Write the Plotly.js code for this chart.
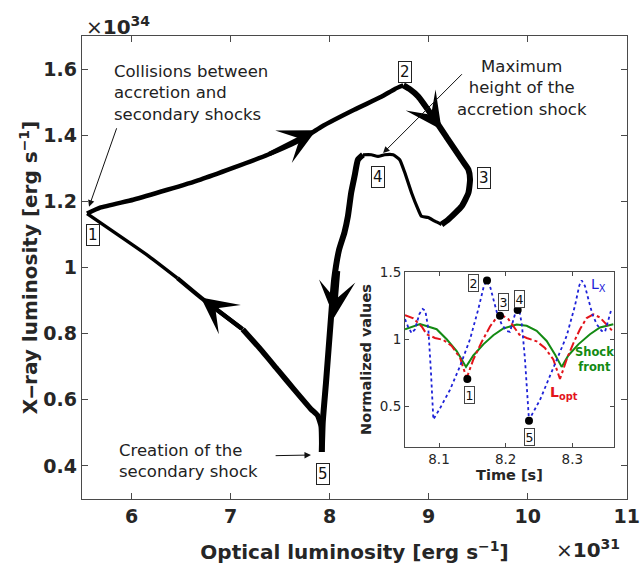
<!DOCTYPE html>
<html><head><meta charset="utf-8">
<script src="https://cdn.plot.ly/plotly-3.0.1.min.js"></script>
<style>body{margin:0;background:#fff}#chart{width:640px;height:570px}</style>
</head><body><div id="chart"></div>
<script>
// ---- Main loop (optical luminosity 1e31, X-ray luminosity 1e34) ----
const segA_x = [5.551, 5.683, 6.017, 6.362, 6.697, 7.031, 7.376, 7.711, 7.914, 8.248, 8.522, 8.660, 8.745];
const segA_y = [1.163, 1.181, 1.205, 1.235, 1.266, 1.302, 1.341, 1.386, 1.425, 1.477, 1.516, 1.540, 1.551];
const segB_x = [8.745, 8.806, 8.895, 9.063, 9.199, 9.334, 9.402, 9.418, 9.402, 9.334, 9.199, 9.131];
const segB_y = [1.551, 1.540, 1.517, 1.447, 1.386, 1.326, 1.296, 1.266, 1.226, 1.185, 1.145, 1.130];
const segC_x = [9.131, 9.063, 8.996, 8.928, 8.895, 8.827, 8.759, 8.708, 8.641, 8.556, 8.489, 8.421, 8.337];
const segC_y = [1.130, 1.140, 1.151, 1.155, 1.175, 1.226, 1.287, 1.326, 1.341, 1.341, 1.336, 1.341, 1.341];
const segD_x = [8.337, 8.286, 8.252, 8.218, 8.185, 8.150, 8.096, 8.046, 8.015, 7.964, 7.931, 7.921];
const segD_y = [1.341, 1.326, 1.276, 1.226, 1.155, 1.106, 1.054, 0.964, 0.852, 0.653, 0.533, 0.442];
const segE_x = [7.921, 7.915, 7.880, 7.812, 7.640, 7.478, 7.305, 7.123];
const segE_y = [0.442, 0.520, 0.552, 0.572, 0.632, 0.690, 0.752, 0.813];
const segE2_x = [7.123, 6.717, 6.463];
const segE2_y = [0.813, 0.905, 0.968];
const segF_x = [6.463, 6.176, 5.551];
const segF_y = [0.968, 1.034, 1.163];

const mainXTicks = [6, 7, 8, 9, 10, 11];
const mainXLabels = ['6', '7', '8', '9', '10', '11'];
const mainYTicks = [0.4, 0.6, 0.8, 1.0, 1.2, 1.4, 1.6];
const mainYLabels = ['0.4', '0.6', '0.8', '1', '1.2', '1.4', '1.6'];

// phase labels on the main loop
const phaseNames = ['1', '2', '3', '4', '5'];
const phaseLabelX = [5.615, 8.766, 9.560, 8.489, 7.931];
const phaseLabelY = [1.097, 1.592, 1.271, 1.274, 0.376];

// direction arrows on the loop: tip x, tip y, tail x, tail y
const arrowTipX = [7.863, 9.131, 8.046, 6.700];
const arrowTipY = [1.415, 1.4165, 0.849, 0.909];
const arrowTailX = [7.376, 8.895, 8.086, 7.123];
const arrowTailY = [1.341, 1.517, 0.994, 0.813];

// ---- Inset (time series) ----
const shockT = [8.049, 8.0715, 8.0965, 8.1115, 8.1265, 8.1405, 8.1515, 8.1665, 8.1815, 8.1965, 8.2165, 8.2315, 8.2465, 8.2615, 8.274, 8.284, 8.294, 8.309, 8.3265, 8.3415, 8.3615];
const shockV = [1.075, 1.1125, 1.075, 1.0, 0.9125, 0.795, 0.88, 0.9625, 1.03, 1.08, 1.11, 1.10, 1.0625, 0.9875, 0.8875, 0.795, 0.88, 0.9625, 1.0375, 1.0875, 1.1125];
const optT = [8.049, 8.0615, 8.074, 8.0815, 8.094, 8.1065, 8.119, 8.1315, 8.1415, 8.1515, 8.164, 8.1765, 8.1865, 8.194, 8.204, 8.2125, 8.2205, 8.2315, 8.2465, 8.259, 8.2715, 8.2815, 8.2915, 8.3015, 8.3115, 8.3215, 8.3315, 8.3415, 8.3515, 8.3615];
const optV = [1.18, 1.155, 1.095, 1.0375, 1.01, 0.995, 0.95, 0.8625, 0.7125, 0.85, 0.98, 1.095, 1.1625, 1.18, 1.15, 1.0875, 1.035, 1.01, 0.985, 0.935, 0.85, 0.705, 0.85, 0.97, 1.075, 1.1575, 1.185, 1.1625, 1.1125, 1.055];
const xrayT = [8.049, 8.054, 8.059, 8.064, 8.0705, 8.0755, 8.0795, 8.084, 8.088, 8.0915, 8.1015, 8.1165, 8.1315, 8.1465, 8.159, 8.1675, 8.1715, 8.1765, 8.1815, 8.1875, 8.194, 8.2015, 8.2065, 8.2115, 8.2155, 8.2205, 8.2245, 8.229, 8.235, 8.2515, 8.2715, 8.2915, 8.304, 8.3105, 8.314, 8.319, 8.324, 8.33, 8.3365, 8.344, 8.349, 8.354, 8.358, 8.3615];
const xrayV = [1.15, 1.0875, 1.045, 1.075, 1.1875, 1.225, 1.2125, 1.075, 0.75, 0.405, 0.4875, 0.625, 0.80, 1.0, 1.225, 1.40, 1.4375, 1.395, 1.30, 1.1875, 1.1125, 1.0625, 1.055, 1.1375, 1.2125, 1.2175, 1.10, 0.85, 0.40, 0.55, 0.7875, 1.025, 1.25, 1.40, 1.4375, 1.395, 1.30, 1.1875, 1.1125, 1.0625, 1.055, 1.1375, 1.2125, 1.2175];
const phaseDotT = [8.1425, 8.172, 8.1915, 8.218, 8.235];
const phaseDotV = [0.705, 1.4375, 1.175, 1.2175, 0.395];
const insetLabelT = [8.145, 8.1515, 8.1965, 8.2205, 8.2365];
const insetLabelV = [0.5875, 1.4175, 1.275, 1.30, 0.275];
const insetXTicks = [8.1, 8.2, 8.3];
const insetXLabels = ['8.1', '8.2', '8.3'];
const insetYTicks = [0.5, 1, 1.5];
const insetYLabels = ['0.5', '1', '1.5'];

const FONT = 'DejaVu Sans';
const AX = '#4a4a4a';

function seg(x, y, w) {
  return {x: x, y: y, type: 'scatter', mode: 'lines', xaxis: 'x', yaxis: 'y',
    line: {color: '#000', width: w, shape: 'spline', smoothing: 0.45}, hoverinfo: 'skip'};
}
const traces = [
  seg(segA_x, segA_y, 4.5),
  seg(segB_x, segB_y, 6),
  seg(segC_x, segC_y, 3.2),
  seg(segD_x, segD_y, 6),
  seg(segE_x, segE_y, 5.5),
  seg(segE2_x, segE2_y, 4.3),
  seg(segF_x, segF_y, 3.4),
  {x: shockT, y: shockV, type: 'scatter', mode: 'lines', xaxis: 'x2', yaxis: 'y2', line: {color: '#138a13', width: 2}},
  {x: optT, y: optV, type: 'scatter', mode: 'lines', xaxis: 'x2', yaxis: 'y2', line: {color: '#e3141b', width: 2, dash: 'dashdot'}},
  {x: xrayT, y: xrayV, type: 'scatter', mode: 'lines', xaxis: 'x2', yaxis: 'y2', line: {color: '#1e22d8', width: 1.8, dash: 'dot'}},
  {x: phaseDotT, y: phaseDotV, type: 'scatter', mode: 'markers', xaxis: 'x2', yaxis: 'y2', marker: {color: '#000', size: 8}}
];

const ann = [];
// boxed phase labels, main
phaseNames.forEach((n, i) => ann.push({x: phaseLabelX[i], y: phaseLabelY[i], xref: 'x', yref: 'y', text: n, showarrow: false,
  font: {family: FONT, size: 15, color: '#111'}, bordercolor: '#222', borderwidth: 1, borderpad: 1, bgcolor: '#fff'}));
// boxed phase labels, inset
phaseNames.forEach((n, i) => ann.push({x: insetLabelT[i], y: insetLabelV[i], xref: 'x2', yref: 'y2', text: n, showarrow: false,
  font: {family: FONT, size: 12.5, color: '#111'}, bordercolor: '#444', borderwidth: 1, borderpad: 0.5, bgcolor: '#fff'}));
// direction arrows on the loop
arrowTipX.forEach((tx, i) => ann.push({x: tx, y: arrowTipY[i], ax: arrowTailX[i], ay: arrowTailY[i], xref: 'x', yref: 'y', axref: 'x', ayref: 'y', text: '',
  showarrow: true, arrowhead: 3, arrowsize: 1.35, arrowwidth: 4.5, arrowcolor: '#000', standoff: 0}));
// text annotations
const txt = {family: FONT, size: 16.5, color: '#222'};
ann.push({x: 5.804, y: 1.528, xref: 'x', yref: 'y', xanchor: 'left', align: 'left', showarrow: false, font: txt,
  text: 'Collisions between<br>accretion and<br>secondary shocks'});
ann.push({x: 5.571, y: 1.184, ax: 5.855, ay: 1.4255, xref: 'x', yref: 'y', axref: 'x', ayref: 'y', text: '', showarrow: true,
  arrowhead: 2, arrowsize: 1.3, arrowwidth: 1, arrowcolor: '#111'});
ann.push({x: 9.942, y: 1.543, xref: 'x', yref: 'y', xanchor: 'center', align: 'center', showarrow: false, font: txt,
  text: 'Maximum<br>height of the<br>accretion shock'});
ann.push({x: 8.540, y: 1.346, ax: 9.351, ay: 1.589, xref: 'x', yref: 'y', axref: 'x', ayref: 'y', text: '', showarrow: true,
  arrowhead: 2, arrowsize: 1.3, arrowwidth: 1, arrowcolor: '#111'});
ann.push({x: 5.855, y: 0.4158, xref: 'x', yref: 'y', xanchor: 'left', align: 'left', showarrow: false, font: txt,
  text: 'Creation of the<br>secondary shock'});
ann.push({x: 7.812, y: 0.433, ax: 7.44, ay: 0.431, xref: 'x', yref: 'y', axref: 'x', ayref: 'y', text: '', showarrow: true,
  arrowhead: 2, arrowsize: 1.3, arrowwidth: 1, arrowcolor: '#111'});
// inset legend-like labels
ann.push({x: 8.339, y: 1.40, xref: 'x2', yref: 'y2', text: 'L<sub>X</sub>', showarrow: false, font: {family: FONT, size: 14, color: '#1e22d8'}});
ann.push({x: 8.333, y: 0.85, xref: 'x2', yref: 'y2', text: '<b>Shock<br>front</b>', showarrow: false, font: {family: FONT, size: 11.5, color: '#138a13'}});
ann.push({x: 8.287, y: 0.60, xref: 'x2', yref: 'y2', text: '<b>L<sub>opt</sub></b>', showarrow: false, font: {family: FONT, size: 14, color: '#e3141b'}});
// exponent labels
ann.push({x: 0.004, y: 1.022, xref: 'paper', yref: 'paper', xanchor: 'left', yanchor: 'middle', showarrow: false,
  text: '×<b>10<sup>34</sup></b>', font: {family: FONT, size: 20, color: '#262626'}});
ann.push({x: 0.866, y: -0.108, xref: 'paper', yref: 'paper', xanchor: 'left', yanchor: 'middle', showarrow: false,
  text: '×<b>10<sup>31</sup></b>', font: {family: FONT, size: 20, color: '#262626'}});

const layout = {
  width: 640, height: 570,
  margin: {l: 82, r: 13, t: 36, b: 71},
  paper_bgcolor: '#fff', plot_bgcolor: '#fff', showlegend: false,
  font: {family: FONT, color: '#262626'},
  xaxis: {range: [5.5, 11.003], domain: [0, 1], tickvals: mainXTicks, ticktext: mainXLabels, ticks: 'inside', ticklen: 6,
    tickcolor: AX, showline: true, linecolor: AX, linewidth: 1.2, mirror: 'ticks', showgrid: false, zeroline: false,
    tickfont: {family: FONT, size: 19, weight: 'bold', color: '#262626'},
    title: {text: 'Optical luminosity [erg s<sup>−1</sup>]', font: {family: FONT, size: 20, weight: 'bold', color: '#262626'}, standoff: 19}},
  yaxis: {range: [0.3, 1.7], domain: [0, 1], tickvals: mainYTicks, ticktext: mainYLabels, ticks: 'inside', ticklen: 6,
    tickcolor: AX, showline: true, linecolor: AX, linewidth: 1.2, mirror: 'ticks', showgrid: false, zeroline: false,
    tickfont: {family: FONT, size: 19, weight: 'bold', color: '#262626'},
    title: {text: 'X‒ray luminosity [erg s<sup>−1</sup>]', font: {family: FONT, size: 20, weight: 'bold', color: '#262626'}, standoff: 0}},
  xaxis2: {anchor: 'y2', domain: [0.5927, 0.9761], range: [8.049, 8.3625], tickvals: insetXTicks, ticktext: insetXLabels,
    ticks: 'inside', ticklen: 4, tickcolor: AX, showline: true, linecolor: AX, linewidth: 1, mirror: 'ticks', showgrid: false, zeroline: false,
    tickfont: {family: FONT, size: 13.5, color: '#262626'},
    title: {text: 'Time [s]', font: {family: FONT, size: 14.5, weight: 'bold', color: '#262626'}, standoff: 2}},
  yaxis2: {anchor: 'x2', domain: [0.1123, 0.4903], range: [0.2, 1.5], tickvals: insetYTicks, ticktext: insetYLabels,
    ticks: 'inside', ticklen: 4, tickcolor: AX, showline: true, linecolor: AX, linewidth: 1, mirror: 'ticks', showgrid: false, zeroline: false,
    tickfont: {family: FONT, size: 13.5, color: '#262626'},
    title: {text: 'Normalized values', font: {family: FONT, size: 14.5, weight: 'bold', color: '#262626'}, standoff: 4}},
  annotations: ann
};
Plotly.newPlot('chart', traces, layout, {displayModeBar: false, staticPlot: true});
</script></body></html>
